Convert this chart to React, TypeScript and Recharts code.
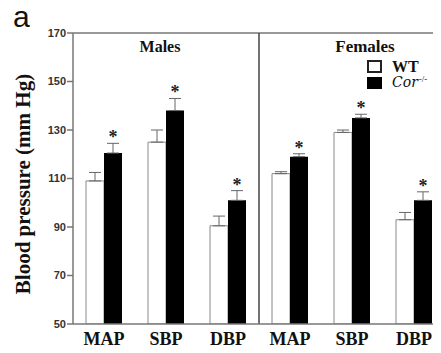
import React from 'react';
import {
  BarChart,
  Bar,
  XAxis,
  YAxis,
  ErrorBar,
  LabelList,
  ReferenceLine,
} from 'recharts';

const categories = ['MAP', 'SBP', 'DBP', 'MAP', 'SBP', 'DBP'];
const groups = ['Males', 'Males', 'Males', 'Females', 'Females', 'Females'];
const wtValues = [109, 125, 90.5, 112, 129, 93];
const wtErrors = [3.5, 5, 4, 0.8, 1, 3];
const corValues = [120.5, 138, 101, 119, 135, 101];
const corErrors = [4, 5, 4, 1.2, 1.5, 3.5];
const significant = [true, true, true, true, true, true];
const yTicks = [50, 70, 90, 110, 130, 150, 170];

const data = categories.map((c, i) => ({
  key: `${groups[i]}-${c}`,
  wt: wtValues[i],
  wtErr: [0, wtErrors[i]],
  cor: corValues[i],
  corErr: [0, corErrors[i]],
}));

const serif = '"Liberation Serif", "Times New Roman", serif';
const sans = '"Liberation Sans", Arial, sans-serif';

// star above the error bar of the knockout bar; scale taken from the drawn bar
function Star(props: any) {
  const { x, y, width, height, index, value } = props;
  if (!significant[index]) return null;
  const pxPerUnit = height / (value - 50);
  const top = y - corErrors[index] * pxPerUnit;
  return (
    <text x={x + width / 2} y={top} textAnchor="middle" fontFamily={serif} fontWeight="bold" fontSize={18} fill="#222">
      *
    </text>
  );
}

function LegendBox() {
  return (
    <div style={{ position: 'absolute', left: 367, top: 59, fontFamily: serif, fontWeight: 'bold', fontSize: 16, lineHeight: '15px', color: '#111' }}>
      <div style={{ display: 'flex', alignItems: 'center' }}>
        <span style={{ width: 11, height: 9, border: '2px solid #222', background: '#fff', display: 'inline-block', marginRight: 10 }} />
        WT
      </div>
      <div style={{ display: 'flex', alignItems: 'center', marginTop: 1 }}>
        <span style={{ width: 15, height: 12, background: '#000', display: 'inline-block', marginRight: 10 }} />
        <span style={{ fontFamily: '"DejaVu Serif", serif', fontStyle: 'italic', fontWeight: 'normal', fontSize: 14 }}>Cor</span>
        <sup style={{ fontSize: 9, fontWeight: 'normal', marginTop: -6, marginLeft: 1 }}>-/-</sup>
      </div>
    </div>
  );
}

export default function App() {
  return (
    <div style={{ position: 'relative', width: 441, height: 353, margin: -8, overflow: 'hidden', background: '#fff' }}>
      <BarChart
        width={460}
        height={353}
        data={data}
        margin={{ top: 33, right: 15, bottom: 0, left: 13 }}
        barGap={0}
        barSize={18}
      >
        <XAxis
          dataKey="key"
          height={29}
          tickFormatter={(v: string) => v.split('-')[1]}
          tickLine={false}
          tickMargin={2}
          axisLine={{ stroke: '#777', strokeWidth: 1.5 }}
          tick={{ fontFamily: serif, fontWeight: 'bold', fontSize: 18, fill: '#111' }}
          interval={0}
        />
        <YAxis
          domain={[50, 170]}
          ticks={yTicks}
          allowDataOverflow
          width={60}
          tickSize={6}
          tickMargin={1}
          axisLine={{ stroke: '#777', strokeWidth: 1.5 }}
          tickLine={{ stroke: '#777', strokeWidth: 1.5 }}
          tick={{ fontFamily: sans, fontWeight: 'bold', fontSize: 11, fill: '#333' }}
        />
        <ReferenceLine y={170} stroke="#777" strokeWidth={1.5} />
        <ReferenceLine x="Males-DBP" position="end" stroke="#444" strokeWidth={1.5} />
        <Bar dataKey="wt" fill="#fff" stroke="#888" strokeWidth={1} isAnimationActive={false}>
          <ErrorBar dataKey="wtErr" width={6} stroke="#666" strokeWidth={1} />
        </Bar>
        <Bar dataKey="cor" fill="#000" isAnimationActive={false}>
          <ErrorBar dataKey="corErr" width={6} stroke="#666" strokeWidth={1} />
          <LabelList dataKey="cor" content={<Star />} />
        </Bar>
      </BarChart>
      <LegendBox />
      <div style={{ position: 'absolute', left: 13, top: 2, fontFamily: sans, fontSize: 30, lineHeight: '30px', color: '#111' }}>a</div>
      <div style={{ position: 'absolute', left: 110, top: 39, width: 100, textAlign: 'center', fontFamily: serif, fontWeight: 'bold', fontSize: 16, lineHeight: '16px', color: '#111' }}>
        Males
      </div>
      <div style={{ position: 'absolute', left: 315, top: 39, width: 100, textAlign: 'center', fontFamily: serif, fontWeight: 'bold', fontSize: 17, lineHeight: '16px', color: '#111' }}>
        Females
      </div>
      <div
        style={{
          position: 'absolute',
          left: 23 - 140,
          top: 184 - 12,
          width: 280,
          height: 24,
          lineHeight: '24px',
          textAlign: 'center',
          transform: 'rotate(-90deg)',
          fontFamily: serif,
          fontWeight: 'bold',
          fontSize: 21,
          color: '#111',
        }}
      >
        Blood pressure (mm Hg)
      </div>
    </div>
  );
}
